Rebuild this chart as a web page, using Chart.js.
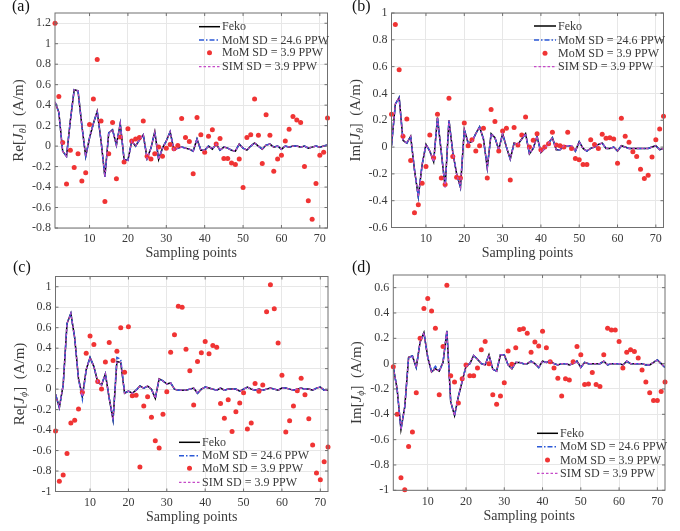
<!DOCTYPE html>
<html><head><meta charset="utf-8">
<script src="https://cdn.jsdelivr.net/npm/chart.js@4.4.1/dist/chart.umd.min.js"></script>
<style>
html,body{margin:0;padding:0;background:#fff;}
#wrap{position:relative;width:680px;height:531px;background:#fff;}
#wrap canvas{position:absolute;left:0;top:0;}
</style></head><body>
<div id="wrap">
<canvas id="ca" width="680" height="531"></canvas>
<canvas id="cb" width="680" height="531"></canvas>
<canvas id="cc" width="680" height="531"></canvas>
<canvas id="cd" width="680" height="531"></canvas>
</div>
<script>
// ---------------- data ----------------
const samplingPoints = [1,2,3,4,5,6,7,8,9,10,11,12,13,14,15,16,17,18,19,20,21,22,23,24,25,26,27,28,29,30,31,32,33,34,35,36,37,38,39,40,41,42,43,44,45,46,47,48,49,50,51,52,53,54,55,56,57,58,59,60,61,62,63,64,65,66,67,68,69,70,71,72];
const xTickValues = [10,20,30,40,50,60,70];
const yTicksA = [-0.8,-0.6,-0.4,-0.2,0,0.2,0.4,0.6,0.8,1,1.2];
const yTicksB = [-0.6,-0.4,-0.2,0,0.2,0.4,0.6,0.8,1];
const yTicksC = [-1,-0.8,-0.6,-0.4,-0.2,0,0.2,0.4,0.6,0.8,1];
const yTicksD = [-1,-0.8,-0.6,-0.4,-0.2,0,0.2,0.4,0.6];
const seriesLabels = ['Feko','MoM SD = 24.6 PPW','MoM SD = 3.9 PPW','SIM SD = 3.9 PPW'];

// (a) Re[J_theta]
const reJthetaFeko = [0.43,0.33,-0.05,-0.1,0.25,0.55,0.54,0.2,-0.1,0.08,
 0.22,0.34,0.05,-0.3,0.13,0.16,0.01,0.22,-0.13,-0.14,
 0.05,0.0,0.06,0.11,-0.12,-0.02,0.14,-0.13,-0.02,0.05,
 0.14,-0.04,-0.02,-0.01,-0.02,-0.03,-0.05,0.07,-0.04,-0.04,
 0.0,-0.03,0.02,-0.04,-0.01,-0.02,-0.04,-0.05,0.02,-0.02,
 -0.04,0.0,0.03,0.0,-0.03,0.01,0.02,-0.01,0.0,-0.03,
 0.0,-0.01,0.0,0.0,-0.01,0.0,-0.02,-0.01,0.0,-0.01,
 0.0,0.01];
const reJthetaMoMFine = reJthetaFeko;
const reJthetaSIM = reJthetaFeko;
const reJthetaMoMCoarse = [1.2,0.485,0.036,-0.37,-0.04,-0.21,-0.075,-0.34,-0.26,0.21,
 0.46,0.845,0.245,-0.54,-0.075,0.23,-0.32,0.09,-0.155,0.17,
 0.05,0.07,0.085,0.245,-0.1,-0.125,-0.075,-0.01,-0.1,-0.02,
 0.015,-0.025,0.005,0.27,0.085,0.045,-0.27,0.28,0.11,-0.06,
 0.095,0.16,0.02,0.075,-0.12,-0.12,-0.165,-0.18,-0.125,-0.405,
 0.085,0.11,0.46,0.105,-0.17,0.305,0.105,-0.245,-0.125,-0.09,
 0.05,0.165,0.29,0.255,0.23,-0.2,-0.535,-0.715,-0.365,-0.09,
 -0.06,0.275];

// (b) Im[J_theta]
const imJthetaFeko = [0.01,0.32,0.37,0.05,0.03,0.08,-0.17,-0.37,-0.13,0.02,
 -0.03,-0.11,0.22,-0.04,-0.3,0.2,-0.04,-0.2,-0.3,0.13,
 0.03,0.04,0.1,0.15,0.06,-0.155,0.1,0.07,-0.02,0.1,
 0.0,-0.09,0.03,0.02,0.06,0.1,-0.05,-0.01,0.08,-0.04,
 -0.01,0.03,0.07,-0.02,-0.02,0.01,0.01,0.01,-0.03,0.04,
 -0.01,-0.03,-0.01,0.0,0.02,0.03,-0.01,-0.01,0.0,-0.03,
 0.01,0.0,-0.01,-0.01,-0.01,-0.01,-0.01,-0.01,0.0,0.01,
 -0.02,-0.01];
const imJthetaMoMFine = imJthetaFeko;
const imJthetaSIM = imJthetaFeko;
const imJthetaMoMCoarse = [0.245,0.915,0.577,0.08,0.21,-0.1,-0.49,-0.43,-0.27,-0.145,
 0.09,-0.08,0.245,-0.23,-0.28,0.365,-0.07,-0.225,-0.23,0.18,
 0.01,0.055,-0.03,0.01,0.14,-0.23,0.28,0.19,-0.03,0.12,
 0.14,-0.245,0.145,0.015,0.09,0.225,0.0,0.05,0.1,-0.02,
 0.0,0.025,0.11,0.015,0.01,0.0,0.11,-0.01,-0.085,-0.095,
 -0.13,-0.13,0.055,0.02,-0.01,0.095,0.065,0.07,0.06,-0.12,
 0.215,0.08,0.035,-0.035,-0.07,-0.165,-0.235,-0.21,-0.075,0.055,
 0.135,0.23];

// (c) Re[J_phi]
const reJphiFeko = [-0.05,-0.18,0.04,0.64,0.74,0.5,0.1,-0.07,0.19,0.31,
 0.22,0.07,0.04,0.15,-0.09,-0.3,0.27,0.26,-0.04,-0.02,
 -0.04,-0.01,0.03,0.01,0.03,0.0,-0.09,0.1,0.08,0.05,
 0.06,0.0,-0.01,-0.01,-0.01,0.0,0.01,-0.04,0.0,0.02,
 0.01,0.0,-0.01,0.01,-0.01,0.0,0.0,0.0,-0.02,0.0,
 0.02,0.0,-0.01,0.0,-0.01,0.0,0.01,0.0,-0.01,0.01,
 0.01,0.0,-0.01,0.0,0.01,0.0,0.0,-0.01,0.01,0.02,
 -0.01,-0.01];
const reJphiMoMFine = [-0.05,-0.18,0.04,0.64,0.74,0.5,0.1,-0.1,0.19,0.31,
 0.22,0.07,0.04,0.15,-0.09,-0.3,0.31,0.29,-0.04,-0.02,
 -0.04,-0.01,0.03,0.01,0.03,0.0,-0.09,0.1,0.08,0.05,
 0.06,0.0,-0.01,-0.01,-0.01,0.0,0.01,-0.04,0.0,0.02,
 0.01,0.0,-0.01,0.01,-0.01,0.0,0.0,0.0,-0.02,0.0,
 0.02,0.0,-0.01,0.0,-0.01,0.0,0.01,0.0,-0.01,0.01,
 0.01,0.0,-0.01,0.0,0.01,0.0,0.0,-0.01,0.01,0.02,
 -0.01,-0.01];
const reJphiSIM = reJphiFeko;
const reJphiMoMCoarse = [-0.41,-0.9,-0.84,-0.63,-0.33,-0.305,-0.195,-0.03,0.35,0.52,
 0.435,0.075,0.0,0.265,0.455,0.28,0.37,0.6,0.165,0.61,
 -0.065,-0.06,-0.76,-0.165,-0.075,-0.275,-0.505,-0.575,-0.245,-0.025,
 0.36,0.53,0.81,0.8,0.39,0.18,-0.155,0.27,0.355,0.465,
 0.345,0.425,0.41,-0.14,-0.285,-0.105,-0.415,-0.22,-0.135,-0.035,
 -0.39,-0.33,0.055,-0.02,0.04,0.755,1.02,0.785,0.45,0.135,
 -0.42,-0.31,-0.165,-0.015,0.105,-0.055,-0.29,-0.545,-0.82,-0.885,
 -0.71,-0.565];

// (d) Im[J_phi]
const imJphiFeko = [-0.03,-0.2,-0.52,-0.34,0.05,0.06,-0.03,0.17,0.245,0.05,
 -0.065,-0.04,-0.06,0.01,0.26,-0.3,-0.41,-0.26,-0.14,-0.02,
 0.0,0.065,0.035,0.0,-0.01,0.07,-0.045,-0.06,0.07,0.07,
 -0.01,-0.04,0.01,0.01,0.0,0.0,0.02,0.0,-0.03,0.02,
 0.01,0.02,0.0,-0.01,0.0,0.0,-0.01,0.0,0.02,-0.03,
 0.01,0.0,0.0,0.0,0.0,0.02,-0.01,0.0,0.0,0.0,
 -0.01,0.02,0.0,0.0,0.0,0.0,-0.01,-0.01,0.01,0.03,
 0.0,-0.03];
const imJphiMoMFine = [-0.03,-0.2,-0.52,-0.34,0.05,0.06,-0.03,0.17,0.245,0.05,
 -0.065,-0.02,-0.06,0.01,0.26,-0.3,-0.41,-0.26,-0.14,-0.02,
 0.0,0.065,0.035,0.0,-0.01,0.07,-0.045,-0.06,0.07,0.07,
 -0.01,-0.04,0.01,0.01,0.0,0.0,0.02,0.0,-0.03,0.02,
 0.01,0.02,0.0,-0.01,0.0,0.0,-0.01,0.0,0.02,-0.03,
 0.01,0.0,0.0,0.0,0.0,0.02,-0.01,0.0,0.0,0.0,
 -0.01,0.02,0.0,0.0,0.0,0.0,-0.01,-0.01,0.01,0.03,
 0.0,-0.03];
const imJphiSIM = imJphiFeko;
const imJphiMoMCoarse = [-0.025,-0.4,-0.9,-0.995,-0.655,-0.54,-0.23,0.2,0.435,0.515,
 0.415,0.28,-0.245,0.135,0.62,-0.095,-0.145,-0.31,-0.12,-0.01,
 -0.095,-0.095,-0.035,0.11,0.175,0.0,-0.245,-0.32,-0.255,-0.15,
 0.1,-0.005,0.125,0.27,0.275,0.24,0.09,0.17,0.14,0.255,
 0.125,0.015,-0.035,-0.115,-0.255,-0.12,-0.13,0.015,0.135,0.07,
 -0.165,-0.16,-0.07,-0.165,-0.18,0.07,0.28,0.265,0.265,0.175,
 -0.035,0.09,0.11,0.095,0.045,-0.05,-0.145,-0.23,-0.29,-0.29,
 -0.22,-0.145];

// ---------------- styles ----------------
const SERIF = '"Liberation Serif", "Times New Roman", serif';
const COL_FEKO = '#000000';
const COL_MOM = '#2b58d6';
const COL_DOT = '#f03434';
const COL_SIM = '#c54ac8';
const DASH_MOM = [5,2,1.5,2];
const DASH_SIM = [2.5,2];
const COL_AXIS = '#707070';
const COL_TEXT = '#3a3a3a';
const COL_GRID = '#e7e7e7';

const panels = [
  {canvas:'ca', feko:reJthetaFeko, fine:reJthetaMoMFine, coarse:reJthetaMoMCoarse, sim:reJthetaSIM,
   yMin:-0.8, yMax:1.3, yTicks:yTicksA, area:{l:55,r:327.5,t:13,b:228},
   tag:'(a)', tagPos:[12,7], yPre:'Re', ySub:'\u03B8', yTitleX:18, xTitleY:253,
   legend:{x0:199,x1:220,tx:222,rows:[26.7,40,52.7,66.7]}},
  {canvas:'cb', feko:imJthetaFeko, fine:imJthetaMoMFine, coarse:imJthetaMoMCoarse, sim:imJthetaSIM,
   yMin:-0.6, yMax:1, yTicks:yTicksB, area:{l:391.5,r:663.5,t:13,b:227.5},
   tag:'(b)', tagPos:[352,7], yPre:'Im', ySub:'\u03B8', yTitleX:355, xTitleY:253,
   legend:{x0:534,x1:556,tx:558,rows:[26,40,53.3,66.7]}},
  {canvas:'cc', feko:reJphiFeko, fine:reJphiMoMFine, coarse:reJphiMoMCoarse, sim:reJphiSIM,
   yMin:-1, yMax:1.1, yTicks:yTicksC, area:{l:55.5,r:328,t:276.5,b:491.5},
   tag:'(c)', tagPos:[13,268], yPre:'Re', ySub:'\u03D5', yTitleX:19, xTitleY:517,
   legend:{x0:179,x1:200,tx:202,rows:[442.3,455.7,468.3,482.3]}},
  {canvas:'cd', feko:imJphiFeko, fine:imJphiMoMFine, coarse:imJphiMoMCoarse, sim:imJphiSIM,
   yMin:-1, yMax:0.7, yTicks:yTicksD, area:{l:393.3,r:665,t:275,b:490.3},
   tag:'(d)', tagPos:[352,268], yPre:'Im', ySub:'\u03D5', yTitleX:356, xTitleY:516,
   legend:{x0:537,x1:558,tx:560,rows:[433.3,446.7,460,473.3]}}
];

const Y_AXIS_W = 45, X_AXIS_H = 30, W = 680, H = 531;

function toPoints(values){ return samplingPoints.map((x,i)=>({x:x, y:values[i]})); }
function fmt(v){ const r = Math.round(v*10)/10; return String(r === 0 ? 0 : r); }

const decorPlugin = {
  id:'decor',
  afterDatasetsDraw(chart){
    const p = chart.options.plugins.decor;
    const ctx = chart.ctx, a = chart.chartArea;
    const xs = chart.scales.x, ys = chart.scales.y;
    ctx.save();
    ctx.strokeStyle = COL_AXIS; ctx.lineWidth = 1;
    ctx.strokeRect(a.left, a.top, a.right - a.left, a.bottom - a.top);
    ctx.beginPath();
    xTickValues.forEach(v=>{
      const px = xs.getPixelForValue(v);
      ctx.moveTo(px, a.bottom); ctx.lineTo(px, a.bottom - 3);
      ctx.moveTo(px, a.top); ctx.lineTo(px, a.top + 3);
    });
    p.yTicks.forEach(v=>{
      const py = ys.getPixelForValue(v);
      ctx.moveTo(a.left, py); ctx.lineTo(a.left + 3, py);
      ctx.moveTo(a.right, py); ctx.lineTo(a.right - 3, py);
    });
    ctx.stroke();

    // legend
    const lg = p.legend;
    ctx.font = '12px ' + SERIF;
    ctx.textBaseline = 'middle'; ctx.textAlign = 'left';
    const ds = chart.data.datasets;
    ds.forEach((d,i)=>{
      const y = lg.rows[i];
      if (d.showLine === false) {
        ctx.fillStyle = d.backgroundColor;
        ctx.beginPath(); ctx.arc((lg.x0+lg.x1)/2, y, d.pointRadius, 0, Math.PI*2); ctx.fill();
      } else {
        ctx.strokeStyle = d.borderColor; ctx.lineWidth = d.borderWidth;
        ctx.setLineDash(d.borderDash || []);
        ctx.beginPath(); ctx.moveTo(lg.x0, y); ctx.lineTo(lg.x1, y); ctx.stroke();
        ctx.setLineDash([]);
      }
      ctx.fillStyle = COL_TEXT;
      ctx.fillText(d.label, lg.tx, y + 0.5);
    });

    // panel tag
    ctx.font = '16px ' + SERIF; ctx.fillStyle = '#111';
    ctx.textBaseline = 'middle'; ctx.textAlign = 'left';
    ctx.fillText(p.tag, p.tagPos[0], p.tagPos[1]);

    // x title
    ctx.font = '14px ' + SERIF; ctx.fillStyle = COL_TEXT; ctx.textAlign = 'center';
    ctx.fillText('Sampling points', (a.left + a.right)/2, p.xTitleY);

    // y title with italic J and subscript
    const parts = [
      {t:p.yPre + '[', f:'15px ' + SERIF, dy:0},
      {t:'J', f:'italic 15px ' + SERIF, dy:0},
      {t:p.ySub, f:'italic 10px ' + SERIF, dy:3},
      {t:']  (A/m)', f:'15px ' + SERIF, dy:0}
    ];
    let total = 0;
    parts.forEach(s=>{ ctx.font = s.f; s.w = ctx.measureText(s.t).width; total += s.w; });
    ctx.translate(p.yTitleX, (a.top + a.bottom)/2);
    ctx.rotate(-Math.PI/2);
    ctx.textAlign = 'left'; ctx.textBaseline = 'alphabetic';
    let cx = -total/2;
    parts.forEach(s=>{ ctx.font = s.f; ctx.fillText(s.t, cx, 5 + s.dy); cx += s.w; });
    ctx.restore();
  }
};

panels.forEach(p=>{
  const el = document.getElementById(p.canvas);
  new Chart(el, {
    type:'scatter',
    data:{
      datasets:[
        {label:seriesLabels[0], data:toPoints(p.feko), showLine:true, borderColor:COL_FEKO, backgroundColor:COL_FEKO,
         borderWidth:1.5, pointRadius:0, order:4},
        {label:seriesLabels[1], data:toPoints(p.fine), showLine:true, borderColor:COL_MOM, backgroundColor:COL_MOM,
         borderWidth:1.5, borderDash:DASH_MOM, pointRadius:0, order:3},
        {label:seriesLabels[2], data:toPoints(p.coarse), showLine:false, borderColor:COL_DOT, backgroundColor:COL_DOT,
         borderWidth:0, pointRadius:2.5, pointStyle:'circle', clip:false, order:2},
        {label:seriesLabels[3], data:toPoints(p.sim), showLine:true, borderColor:COL_SIM, backgroundColor:COL_SIM,
         borderWidth:1.2, borderDash:DASH_SIM, pointRadius:0, order:1}
      ]
    },
    options:{
      responsive:false, animation:false, devicePixelRatio:1,
      layout:{padding:{left:p.area.l - Y_AXIS_W, right:W - p.area.r, top:p.area.t, bottom:H - p.area.b - X_AXIS_H}},
      plugins:{legend:{display:false}, tooltip:{enabled:false}, decor:p},
      scales:{
        x:{type:'linear', min:1, max:72,
           afterBuildTicks:s=>{ s.ticks = xTickValues.map(v=>({value:v})); },
           afterFit:s=>{ s.height = X_AXIS_H; s.paddingLeft = 0; s.paddingRight = 0; },
           grid:{color:COL_GRID, drawTicks:false}, border:{display:false},
           ticks:{font:{family:SERIF, size:12}, color:COL_TEXT, padding:4, maxRotation:0, autoSkip:false, callback:v=>fmt(v)}},
        y:{type:'linear', min:p.yMin, max:p.yMax,
           afterBuildTicks:s=>{ s.ticks = p.yTicks.map(v=>({value:v})); },
           afterFit:s=>{ s.width = Y_AXIS_W; s.paddingTop = 0; s.paddingBottom = 0; },
           grid:{color:COL_GRID, drawTicks:false}, border:{display:false},
           ticks:{font:{family:SERIF, size:12}, color:COL_TEXT, padding:4, autoSkip:false, callback:v=>fmt(v)}}
      }
    },
    plugins:[decorPlugin]
  });
});
</script>
</body></html>
